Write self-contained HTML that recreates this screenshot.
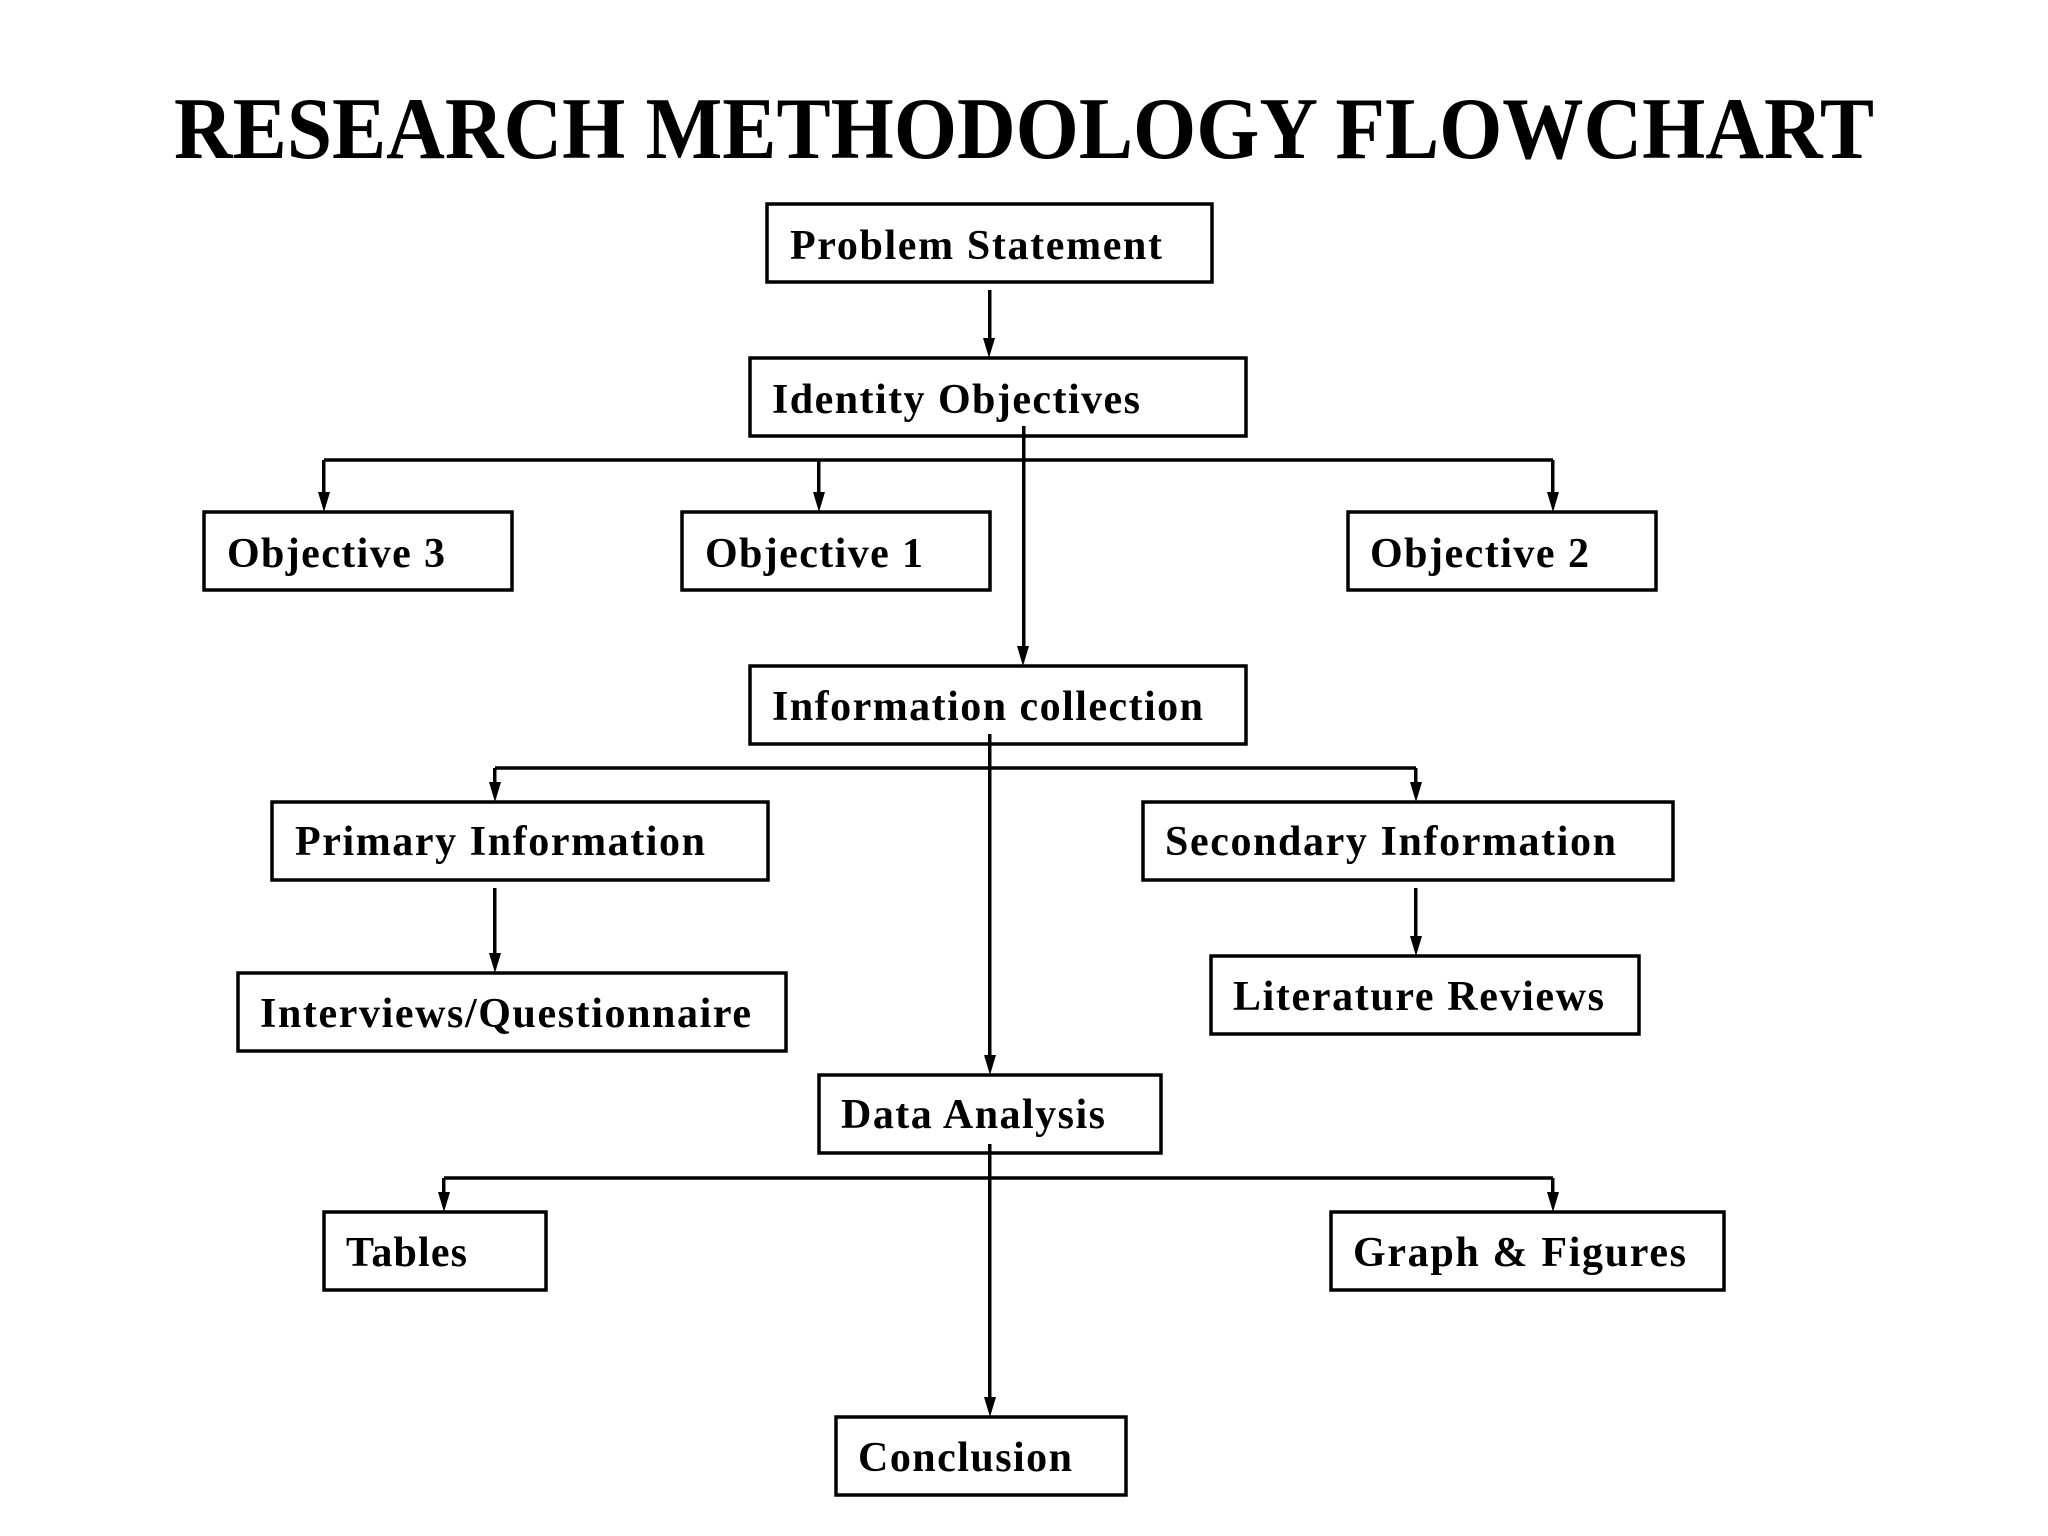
<!DOCTYPE html>
<html><head><meta charset="utf-8"><style>html,body{margin:0;padding:0;background:#fff}svg{display:block}</style></head>
<body>
<svg width="2048" height="1536" viewBox="0 0 2048 1536" xmlns="http://www.w3.org/2000/svg">
<defs><marker id="a" markerWidth="12" markerHeight="20" refX="6" refY="20" orient="auto" markerUnits="userSpaceOnUse"><path d="M0,0 L12,0 L6,20 Z" transform="rotate(-90 6 10) translate(-4 4)" fill="#000"/></marker></defs>
<g font-family="Liberation Serif, serif" font-weight="bold" fill="#000">
<text x="174" y="158" font-size="88" textLength="1700" lengthAdjust="spacingAndGlyphs">RESEARCH  METHODOLOGY  FLOWCHART</text>
</g>
<g fill="none" stroke="#000" stroke-width="3.5">
<rect x="767" y="204" width="445" height="78"/>
<rect x="750" y="358" width="496" height="78"/>
<rect x="204" y="512" width="308" height="78"/>
<rect x="682" y="512" width="308" height="78"/>
<rect x="1348" y="512" width="308" height="78"/>
<rect x="750" y="666" width="496" height="78"/>
<rect x="272" y="802" width="496" height="78"/>
<rect x="1143" y="802" width="530" height="78"/>
<rect x="238" y="973" width="548" height="78"/>
<rect x="1211" y="956" width="428" height="78"/>
<rect x="819" y="1075" width="342" height="78"/>
<rect x="324" y="1212" width="222" height="78"/>
<rect x="1331" y="1212" width="393" height="78"/>
<rect x="836" y="1417" width="290" height="78"/>
</g>
<g stroke="#000" stroke-width="3.5" fill="none">
<line x1="324" y1="460" x2="1553" y2="460"/>
<line x1="495" y1="768" x2="1416" y2="768"/>
<line x1="444" y1="1178" x2="1553" y2="1178"/>
</g>
<g fill="#000">
<!-- vertical lines with arrowheads -->
<rect x="988" y="290" width="3.5" height="50"/><path d="M983,338 L995,338 L989,358 Z"/>
<rect x="1022" y="426" width="3.5" height="222"/><path d="M1017,646 L1029,646 L1023,666 Z"/>
<rect x="322" y="460" width="3.5" height="34"/><path d="M318,492 L330,492 L324,512 Z"/>
<rect x="817" y="460" width="3.5" height="34"/><path d="M813,492 L825,492 L819,512 Z"/>
<rect x="1551" y="460" width="3.5" height="34"/><path d="M1547,492 L1559,492 L1553,512 Z"/>
<rect x="988" y="734" width="3.5" height="323"/><path d="M984,1055 L996,1055 L990,1075 Z"/>
<rect x="493" y="768" width="3.5" height="16"/><path d="M489,782 L501,782 L495,802 Z"/>
<rect x="1414" y="768" width="3.5" height="16"/><path d="M1410,782 L1422,782 L1416,802 Z"/>
<rect x="493" y="888" width="3.5" height="67"/><path d="M489,953 L501,953 L495,973 Z"/>
<rect x="1414" y="888" width="3.5" height="50"/><path d="M1410,936 L1422,936 L1416,956 Z"/>
<rect x="988" y="1144" width="3.5" height="255"/><path d="M984,1397 L996,1397 L990,1417 Z"/>
<rect x="442" y="1178" width="3.5" height="16"/><path d="M438,1192 L450,1192 L444,1212 Z"/>
<rect x="1551" y="1178" width="3.5" height="16"/><path d="M1547,1192 L1559,1192 L1553,1212 Z"/>
</g>
<g font-family="Liberation Serif, serif" font-weight="bold" font-size="42" fill="#000" lengthAdjust="spacingAndGlyphs">
<text x="790" y="259" textLength="372">Problem Statement</text>
<text x="772" y="413" textLength="368">Identity Objectives</text>
<text x="227" y="567" textLength="218">Objective 3</text>
<text x="705" y="567" textLength="218">Objective 1</text>
<text x="1370" y="567" textLength="219">Objective 2</text>
<text x="772" y="720" textLength="431">Information collection</text>
<text x="295" y="855" textLength="410">Primary Information</text>
<text x="1165" y="855" textLength="451">Secondary Information</text>
<text x="260" y="1027" textLength="491">Interviews/Questionnaire</text>
<text x="1233" y="1010" textLength="371">Literature Reviews</text>
<text x="841" y="1128" textLength="264">Data Analysis</text>
<text x="346" y="1266" textLength="121">Tables</text>
<text x="1353" y="1266" textLength="333">Graph &amp; Figures</text>
<text x="858" y="1471" textLength="214">Conclusion</text>
</g>
</svg>
</body></html>
